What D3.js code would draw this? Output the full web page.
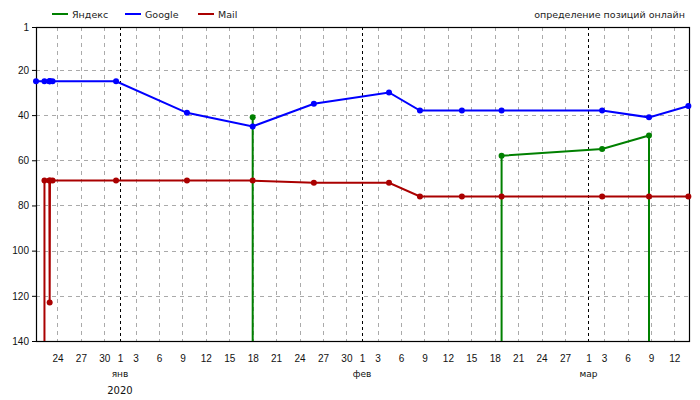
<!DOCTYPE html>
<html>
<head>
<meta charset="utf-8">
<script src="https://cdn.jsdelivr.net/npm/d3@7"></script>
<style>
  body { margin: 0; background: #fff; }
  svg { font-family: "DejaVu Sans", Verdana, sans-serif; }
</style>
</head>
<body>
<div id="chart"></div>
<script>
// measurement times (local time)
var times = [
  "2019-12-21 06:00", "2019-12-22 08:00", "2019-12-22 23:00", "2019-12-23 00:00",
  "2019-12-23 01:00", "2019-12-23 09:00", "2019-12-31 12:00", "2020-01-09 14:00",
  "2020-01-18 00:00", "2020-01-25 20:00", "2020-02-04 11:00", "2020-02-08 10:00",
  "2020-02-13 19:00", "2020-02-18 21:00", "2020-03-02 18:00", "2020-03-08 18:00",
  "2020-03-13 19:00"
];
// positions, null = not in top 140
var yandex = [null, null, null, null, null, null, null, null, 41, null, null, null, null, 58, 55, 49, null];
var google = [25, 25, 25, 25, 25, 25, 25, 39, 45, 35, 30, 38, 38, 38, 38, 41, 36];
var mail   = [null, 69, 69, 123, 69, 69, 69, 69, 69, 70, 70, 76, 76, 76, 76, 76, 76];

var seriesNames = ["Яндекс", "Google", "Mail"];
var yTicks = [1, 20, 40, 60, 80, 100, 120, 140];
var monthLabels = ["янв", "фев", "мар"];
var yearLabel = "2020";
var brand = "определение позиций онлайн";

var colors = ["#008000", "#0000ff", "#aa0000"];

var width = 700, height = 400;
var margin = {top: 27, right: 11, bottom: 59, left: 36};
var w = width - margin.left - margin.right, h = height - margin.top - margin.bottom;

var parse = d3.timeParse("%Y-%m-%d %H:%M");
var dates = times.map(parse);

var svg = d3.select("#chart").append("svg").attr("width", width).attr("height", height);
var g = svg.append("g").attr("transform", `translate(${margin.left},${margin.top})`);

var x = d3.scaleTime()
  .domain([new Date(2019, 11, 21, 6), new Date(2020, 2, 13, 21)])
  .range([0, w]);
var y = d3.scaleLinear().domain([1, 140]).range([0, h]);

var tickDays = d3.timeDay.range(x.domain()[0], x.domain()[1])
  .filter(d => d.getDate() == 1 || d.getDate() % 3 == 0);
tickDays = tickDays.filter(d => x(d) > 0);

// vertical grid
g.append("g").selectAll("line").data(tickDays).enter().append("line")
  .attr("x1", d => Math.round(x(d)) + 0.5).attr("x2", d => Math.round(x(d)) + 0.5)
  .attr("y1", 0).attr("y2", h)
  .attr("stroke", d => d.getDate() == 1 ? "#000" : "#aaa")
  .attr("stroke-dasharray", d => d.getDate() == 1 ? "3,3" : "4,4");

// horizontal grid
g.append("g").selectAll("line").data(yTicks.slice(1, -1)).enter().append("line")
  .attr("x1", 0).attr("x2", w)
  .attr("y1", d => Math.round(y(d)) + 0.5).attr("y2", d => Math.round(y(d)) + 0.5)
  .attr("stroke", "#aaa").attr("stroke-dasharray", "4,4");

// frame
g.append("rect").attr("x", 0.5).attr("y", 0.5).attr("width", w).attr("height", h)
  .attr("fill", "none").attr("stroke", "#000").attr("stroke-width", 1.2);

// axes
var yAxis = g.append("g").call(d3.axisLeft(y).tickValues(yTicks).tickSize(4).tickPadding(3));
yAxis.select(".domain").remove();
yAxis.selectAll("text").attr("font-size", 10).attr("fill", "#111").attr("font-family", null);
yAxis.selectAll("line").attr("stroke", "#000");

var xAxis = g.append("g").attr("transform", `translate(0,${h})`)
  .call(d3.axisBottom(x).tickValues(tickDays).tickSize(0).tickPadding(14).tickFormat(d3.timeFormat("%-d")));
xAxis.select(".domain").remove();
xAxis.selectAll("text").attr("font-size", 10).attr("fill", "#111").attr("font-family", null);

var monthStarts = tickDays.filter(d => d.getDate() == 1);
g.append("g").selectAll("text").data(monthStarts).enter().append("text")
  .attr("x", d => x(d)).attr("y", h + 36)
  .attr("text-anchor", "middle").attr("font-size", 9).attr("fill", "#111")
  .text((d, i) => monthLabels[i]);
g.append("text").attr("x", x(monthStarts[0])).attr("y", h + 53)
  .attr("text-anchor", "middle").attr("font-size", 10).attr("fill", "#111")
  .text(yearLabel);

// series
var all = [yandex, google, mail];
var line = d3.line().defined(d => d.v != null).x(d => x(d.t)).y(d => y(d.v));

all.forEach(function(vals, k) {
  var pts = vals.map((v, i) => ({t: dates[i], v: v}));
  var sg = g.append("g");
  sg.append("path").datum(pts).attr("d", line)
    .attr("fill", "none").attr("stroke", colors[k]).attr("stroke-width", 2);
  // drop to bottom where neighbour is out of top 140
  var drops = pts.filter((p, i) => p.v != null && ((i > 0 && vals[i - 1] == null) || (i < vals.length - 1 && vals[i + 1] == null)));
  sg.selectAll("line").data(drops).enter().append("line")
    .attr("x1", d => x(d.t)).attr("x2", d => x(d.t))
    .attr("y1", d => y(d.v)).attr("y2", h)
    .attr("stroke", colors[k]).attr("stroke-width", 2);
  sg.selectAll("circle").data(pts.filter(p => p.v != null)).enter().append("circle")
    .attr("cx", d => x(d.t)).attr("cy", d => y(d.v)).attr("r", 3)
    .attr("fill", colors[k]);
});

// legend
var lg = svg.append("g").selectAll("g").data(seriesNames).enter().append("g")
  .attr("transform", (d, i) => `translate(${52 + i * 73},14)`);
lg.append("line").attr("x1", 0).attr("x2", 16).attr("stroke", (d, i) => colors[i]).attr("stroke-width", 2);
lg.append("text").attr("x", 20).attr("y", 4).attr("font-size", 9.5).attr("fill", "#222").text(d => d);

svg.append("text").attr("x", 685).attr("y", 17.5).attr("text-anchor", "end")
  .attr("font-size", 9.5).attr("fill", "#222").text(brand);
</script>
</body>
</html>
